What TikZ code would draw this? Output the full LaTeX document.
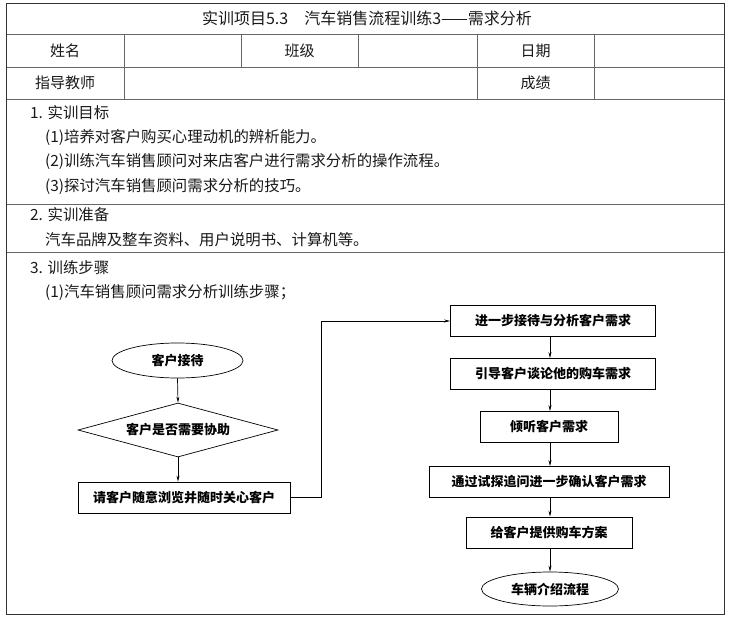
\documentclass[tikz,border=0pt]{standalone}
\usepackage{fontspec}
\setmainfont{Noto Sans CJK SC}
\usetikzlibrary{shapes.geometric,arrows.meta}
\begin{document}
\begin{tikzpicture}[x=1pt,y=-1pt,
  inner/.style={draw=black!60,line width=0.6pt},
  outer/.style={draw=black!80,line width=1.3pt},
  body/.style={anchor=west,inner sep=0pt,font=\fontsize{15.4}{18}\selectfont,text=black!90},
  cell/.style={inner sep=0pt,font=\fontsize{15}{18}\selectfont,text=black!90},
  fbox/.style={draw,line width=0.7pt,rectangle,minimum height=31pt,inner sep=0pt,font=\fontsize{13}{15}\selectfont\bfseries},
  fell/.style={draw,line width=0.7pt,ellipse,inner sep=0pt,font=\fontsize{13}{15}\selectfont\bfseries},
  fdia/.style={draw,line width=0.7pt,diamond,shape aspect=3.7,inner sep=0pt,font=\fontsize{13}{15}\selectfont\bfseries},
  arr/.style={draw,line width=0.7pt,-{Stealth[length=6pt,width=3pt]}}
]
\useasboundingbox (0,0) rectangle (730,621);
\fill[white] (0,0) rectangle (730,621);
% table lines
\draw[inner] (6.5,34) -- (724.5,34);
\draw[inner] (6.5,67) -- (724.5,67);
\draw[inner] (6.5,99) -- (724.5,99);
\draw[inner] (6.5,204) -- (724.5,204);
\draw[inner] (6.5,252) -- (724.5,252);
\foreach \x in {124,241,358,477,594} \draw[inner] (\x,34) -- (\x,67);
\foreach \x in {124,477,594} \draw[inner] (\x,67) -- (\x,99);
\draw[outer] (6.5,3.5) rectangle (724.5,614.5);
% header texts
\node[cell,font=\fontsize{16}{18}\selectfont] (title) at (367,18.5) {实训项目5.3　汽车销售流程训练3——需求分析};
\node[cell] (xm) at (65,50.5) {姓名};
\node[cell] (bj) at (299.5,50.5) {班级};
\node[cell] (rq) at (535.5,50.5) {日期};
\node[cell] (js) at (65,83) {指导教师};
\node[cell] (cj) at (535.5,83) {成绩};
% body
\node[body] (s1) at (30,113) {1. 实训目标};
\node[body] (s1a) at (45,137) {(1)培养对客户购买心理动机的辨析能力。};
\node[body] (s1b) at (45,161) {(2)训练汽车销售顾问对来店客户进行需求分析的操作流程。};
\node[body] (s1c) at (45,186) {(3)探讨汽车销售顾问需求分析的技巧。};
\node[body] (s2) at (30,215) {2. 实训准备};
\node[body] (s2a) at (45,240) {汽车品牌及整车资料、用户说明书、计算机等。};
\node[body] (s3) at (30,268) {3. 训练步骤};
\node[body] (s3a) at (45,292) {(1)汽车销售顾问需求分析训练步骤；};
% flowchart left
\node[fell,minimum width=131pt,minimum height=35pt] (a) at (177.5,360.5) {客户接待};
\node[fdia,minimum width=200pt,minimum height=54pt] (b) at (178,430) {客户是否需要协助};
\node[fbox,minimum width=212pt] (c) at (184,497.5) {请客户随意浏览并随时关心客户};
% flowchart right
\node[fbox,minimum width=205pt] (r1) at (553,321) {进一步接待与分析客户需求};
\node[fbox,minimum width=205pt] (r2) at (553,374) {引导客户谈论他的购车需求};
\node[fbox,minimum width=138pt] (r3) at (549,427) {倾听客户需求};
\node[fbox,minimum width=240pt] (r4) at (549,482) {通过试探追问进一步确认客户需求};
\node[fbox,minimum width=166pt] (r5) at (549,532.5) {给客户提供购车方案};
\node[fell,minimum width=137pt,minimum height=34pt] (r6) at (550,589) {车辆介绍流程};
\coordinate (turn) at (321.5,497.5);
% connectors
\draw[arr] (a.south) -- (b.north);
\draw[arr] (b.south) -- (b.south |- c.north);
\draw[arr] (c.east) -- (turn) |- (r1.west);
\draw[arr] (r1.south -| r6) -- (r2.north -| r6);
\draw[arr] (r2.south -| r6) -- (r3.north -| r6);
\draw[arr] (r3.south -| r6) -- (r4.north -| r6);
\draw[arr] (r4.south -| r6) -- (r5.north -| r6);
\draw[arr] (r5.south -| r6) -- (r6.north);
\end{tikzpicture}
\end{document}
